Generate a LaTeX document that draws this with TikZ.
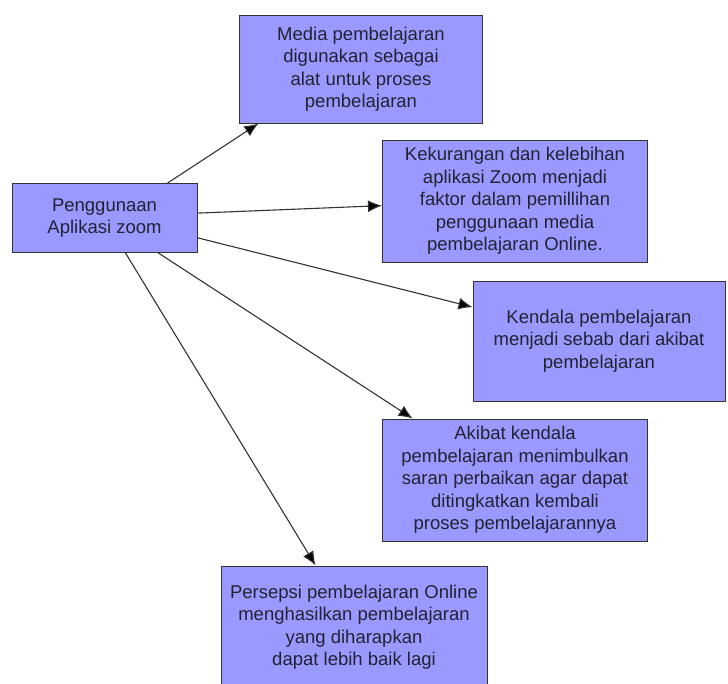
\documentclass[tikz,border=0pt]{standalone}
\usepackage{fontspec}
\setmainfont{Liberation Sans}
\usetikzlibrary{arrows.meta}
\usetikzlibrary{positioning}
\definecolor{boxfill}{HTML}{9999FF}
\definecolor{boxline}{HTML}{333333}
\definecolor{boxtext}{HTML}{222233}

\begin{document}
\begin{tikzpicture}[x=1pt,y=-1pt,
  kotak/.style={draw=boxline,fill=boxfill,line width=1pt,align=center,inner sep=0pt,
    text=boxtext,font=\fontsize{18.5}{22.5}\selectfont},
  panah/.style={draw=boxline,line width=1.1pt,-{Latex[length=14pt,width=12pt,fill=black]}}]
  \useasboundingbox (0,0) rectangle (728,683);
  \clip (0,0) rectangle (728,683);

  \node[kotak,minimum width=185pt,minimum height=69pt] (zoom) at (104.5,218)
    {Penggunaan\\Aplikasi zoom};
  \node[kotak,minimum width=243pt,minimum height=108pt] (media) at (361,69)
    {Media pembelajaran\\digunakan sebagai\\alat untuk proses\\pembelajaran};
  \node[kotak,minimum width=265pt,minimum height=122pt] (kurang) at (515,201)
    {Kekurangan dan kelebihan\\aplikasi Zoom menjadi\\faktor dalam pemillihan\\penggunaan media\\pembelajaran Online.};
  \node[kotak,minimum width=252pt,minimum height=120pt] (kendala) at (599,341)
    {Kendala pembelajaran\\menjadi sebab dari akibat\\pembelajaran};
  \node[kotak,minimum width=265pt,minimum height=122pt] (akibat) at (515,480)
    {Akibat kendala\\pembelajaran menimbulkan\\saran perbaikan agar dapat\\ditingkatkan kembali\\proses pembelajarannya};
  \node[kotak,minimum width=266pt,minimum height=122pt] (persepsi) at (354,627)
    {Persepsi pembelajaran Online\\menghasilkan pembelajaran\\yang diharapkan\\dapat lebih baik lagi};

  \draw[panah] (zoom.29) -- (media.208);
  \draw[panah] (zoom.3) -- (kurang.182);
  \draw[panah] (zoom.-12) -- (kendala.165);
  \draw[panah] (zoom.-33) -- (akibat.149);
  \draw[panah] (zoom.-59) -- (persepsi.122);
\end{tikzpicture}
\end{document}
